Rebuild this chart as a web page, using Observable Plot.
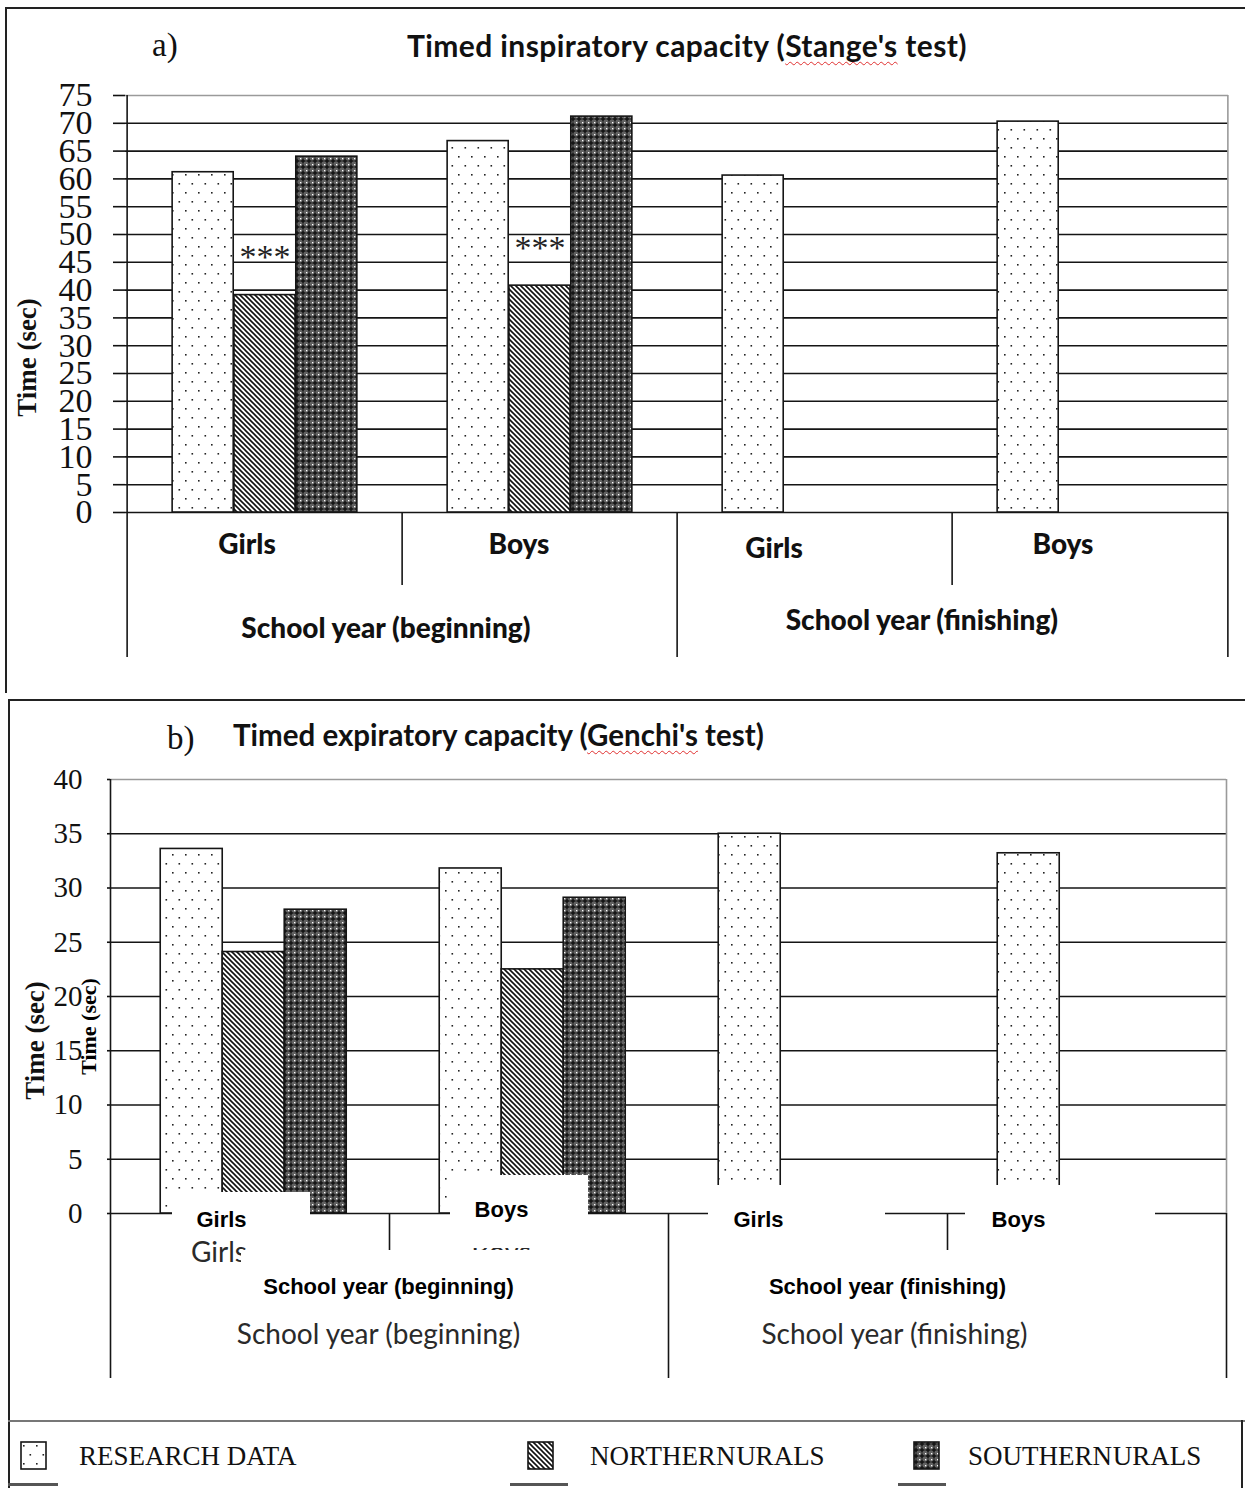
<!DOCTYPE html>
<html><head><meta charset="utf-8">
<script src="https://cdn.jsdelivr.net/npm/d3@7"></script>
<script src="https://cdn.jsdelivr.net/npm/@observablehq/plot@0.6"></script>
<style>
body{margin:0;background:#fff;}
#page{position:relative;width:1245px;height:1488px;overflow:hidden;background:#fff;}
.ln{position:absolute;background:#222;}
.ttl{position:absolute;white-space:nowrap;font-family:Lato,sans-serif;font-weight:bold;font-size:30px;letter-spacing:0.4px;line-height:34px;color:#111;}
.lab{position:absolute;white-space:nowrap;font-family:"Liberation Serif",serif;font-size:33px;line-height:40px;color:#111;}
.sq{text-decoration:underline wavy #e03030;text-decoration-thickness:1px;text-underline-offset:4px;text-decoration-skip-ink:none;}
.leg{position:absolute;white-space:nowrap;font-family:"Liberation Serif",serif;font-size:27px;line-height:34px;color:#111;}
.sw{position:absolute;}
.plot{position:absolute;left:0;}
</style></head>
<body>
<svg width="0" height="0" style="position:absolute">
<defs>
<pattern id="pat0" patternUnits="userSpaceOnUse" width="13" height="18">
 <rect width="13" height="18" fill="#fff"/>
 <rect x="3" y="4" width="1.6" height="1.6" fill="#222"/>
 <rect x="9.5" y="13" width="1.6" height="1.6" fill="#222"/>
</pattern>
<pattern id="pat1" patternUnits="userSpaceOnUse" width="5" height="5">
 <rect width="5" height="5" fill="#fff"/>
 <path d="M-1,-1 L6,6 M-1,4 L1,6 M4,-1 L6,1" stroke="#111" stroke-width="1.6"/>
</pattern>
<pattern id="pat2" patternUnits="userSpaceOnUse" width="6" height="6">
 <rect width="6" height="6" fill="#626262"/>
 <rect x="2.25" y="0.5" width="1.5" height="5" fill="#111"/>
 <rect x="0.5" y="2.25" width="5" height="1.5" fill="#111"/>
 <rect x="0" y="0" width="1.3" height="1.3" fill="#fff"/>
</pattern>
</defs></svg>
<div id="page"></div>
<script>
// ---------- data ----------
const groups = ["Girls (beginning)", "Boys (beginning)", "Girls (finishing)", "Boys (finishing)"];
const sexLabels = ["Girls", "Boys", "Girls", "Boys"];
const yearLabels = ["School year (beginning)", "School year (finishing)"];
const series = ["RESEARCH DATA", "NORTHERN URALS", "SOUTHERN URALS"];

const yLabel = "Time (sec)";

const inspResearch = [61.2, 66.8, 60.6, 70.3];
const inspNorthern = [39.1, 40.8, null, null];
const inspSouthern = [64.0, 71.2, null, null];
const inspNorthernMarks = ["***", "***", null, null];
const inspTicks = [0, 5, 10, 15, 20, 25, 30, 35, 40, 45, 50, 55, 60, 65, 70, 75];

const expResearch = [33.6, 31.8, 35.0, 33.2];
const expNorthern = [24.1, 22.5, null, null];
const expSouthern = [28.0, 29.1, null, null];
const expTicks = [0, 5, 10, 15, 20, 25, 30, 35, 40];

// ---------- helpers ----------
const page = document.getElementById("page");
function line(l, t, w, h, c) {
  const d = document.createElement("div"); d.className = "ln";
  Object.assign(d.style, {left: l + "px", top: t + "px", width: w + "px", height: h + "px"});
  if (c) d.style.background = c;
  page.appendChild(d);
}
function html(cls, l, t, inner) {
  const d = document.createElement("div"); d.className = cls;
  d.style.left = l + "px"; d.style.top = t + "px"; d.innerHTML = inner;
  page.appendChild(d); return d;
}

function rowsOf(valueArrays) {
  const rows = [];
  valueArrays.forEach((arr, k) => arr.forEach((v, i) => {
    if (v != null) rows.push({group: groups[i], series: series[k], value: v, i});
  }));
  return rows;
}

function panel(cfg) {
  const {width, height, ml, mr, mt, mb, yMax, ticks, values, po, al} = cfg;
  const bw = (width - ml - mr) / groups.length;
  const sub = d3.scaleBand().domain(series).range([0, bw]).paddingInner(0).paddingOuter(po).align(al);
  const rows = rowsOf(values);
  const S = "#151515", SW = 1.6;
  const marks = [];
  marks.push(Plot.gridY(ticks.filter(t => t > 0 && t < yMax), {stroke: S, strokeOpacity: 1, strokeWidth: SW}));
  marks.push(Plot.ruleY([yMax], {stroke: "#9a9a9a", strokeWidth: SW}));
  marks.push(Plot.ruleY([0], {stroke: S, strokeWidth: SW}));
  series.forEach((s, k) => marks.push(Plot.barY(rows.filter(d => d.series === s), {
    x: "group", y: "value", fill: `url(#pat${k})`, stroke: S, strokeWidth: SW,
    insetLeft: sub(s), insetRight: bw - sub(s) - sub.bandwidth()
  })));
  // separators of the two-level category axis
  const below = cfg.below, inner = cfg.inner;
  marks.push(Plot.ruleX([groups[0]], {dx: -bw / 2, insetBottom: -below, stroke: S, strokeWidth: SW}));
  marks.push(Plot.ruleX([groups[1], groups[3]], {dx: -bw / 2, y1: 0, y2: 0, insetBottom: -inner, stroke: S, strokeWidth: SW}));
  marks.push(Plot.ruleX([groups[2]], {dx: -bw / 2, y1: 0, y2: 0, insetBottom: -below, stroke: S, strokeWidth: SW}));
  marks.push(Plot.ruleX([groups[3]], {dx: bw / 2, stroke: "#9a9a9a", strokeWidth: SW}));
  marks.push(Plot.ruleX([groups[3]], {dx: bw / 2, y1: 0, y2: 0, insetBottom: -below, stroke: S, strokeWidth: SW}));
  marks.push(Plot.axisY(ticks, {tickSize: cfg.tickSize, tickPadding: cfg.tickPadding, fontSize: cfg.tickFont,
    fontFamily: "Liberation Serif", label: null, strokeWidth: SW, color: "#111"}));
  cfg.extra(marks, {bw, sub, rows});
  return Plot.plot({
    width, height, marginLeft: ml, marginRight: mr, marginTop: mt, marginBottom: mb,
    x: {domain: groups, padding: 0, axis: null},
    y: {domain: [0, yMax]},
    style: {background: "transparent", overflow: "visible", color: "#111", fontFamily: "Liberation Serif"},
    marks
  });
}
function label(group, text, dx, dy, opts) {
  return Plot.text([text], Object.assign({x: () => group, text: d => d, frameAnchor: "bottom", dx, dy}, opts));
}

// ---------- borders ----------
line(5, 7, 2, 686);        // panel a left
line(5, 7, 1240, 2);       // panel a top
line(8, 699, 1237, 2);     // panel b top
line(8, 699, 2, 789);      // panel b left
line(8, 1420, 1237, 2, "#777"); // legend top
line(1241, 1420, 2, 68);   // legend right
line(8, 1483, 50, 3, "#555");
line(510, 1483, 58, 3, "#555");
line(898, 1483, 48, 3, "#555");

// ---------- panel a ----------
html("lab", 152, 25, "a)");
html("ttl", 407, 28, "Timed inspiratory capacity (<span class='sq'>Stange's</span> test)");
const boldCal = {fontFamily: "Lato", fontWeight: 900, fontSize: 28, fill: "#111"};
const svgA = panel({
  width: 1245, height: 600, ml: 125, mr: 17, mt: 15, mb: 168, yMax: 75, ticks: inspTicks,
  values: [inspResearch, inspNorthern, inspSouthern], po: 0.73, al: 0.5,
  below: 145, inner: 73, tickSize: 12, tickPadding: 21, tickFont: 34,
  extra: (marks, {bw, sub, rows}) => {
    const north = rows.filter(d => d.series === series[1]);
    marks.push(Plot.text(north, {x: "group", y: "value", text: d => inspNorthernMarks[d.i],
      dx: sub(series[1]) + sub.bandwidth() / 2 - bw / 2, dy: -38, fontSize: 34, fontFamily: "Liberation Serif", fill: "#222"}));
    const dxs = [-18, -21, -41, -27], dys = [41, 41, 45, 41];
    groups.forEach((g, i) => marks.push(label(g, sexLabels[i], dxs[i], dys[i], boldCal)));
    marks.push(label(groups[0], yearLabels[0], bw / 2 - 17, 125, boldCal));
    marks.push(label(groups[2], yearLabels[1], bw / 2 - 31, 117, boldCal));
    marks.push(Plot.text([yLabel], {frameAnchor: "bottom-left", rotate: -90, dx: -90, dy: -155, text: d => d,
      textAnchor: "middle", fontFamily: "Liberation Serif", fontWeight: "bold", fontSize: 27, fill: "#111"}));
  }
});
svgA.classList.add("plot"); svgA.style.top = "80px";
page.appendChild(svgA);

// ---------- panel b ----------
html("lab", 167, 718, "b)");
const tb = html("ttl", 233, 718, "Timed expiratory capacity (<span class='sq'>Genchi's</span> test)");
tb.style.letterSpacing = "0px"; tb.style.fontSize = "29.5px";
const boldArial = {fontFamily: "Liberation Sans", fontWeight: "bold", fontSize: 22, fill: "#000"};
const lightCal = {fontFamily: "Lato", fontSize: 28, fill: "#2a2a2a"};
const boxes = [
  {g: 0, l: 62, r: 79, t: -21, b: -27},
  {g: 1, l: 61, r: 80, t: -38, b: -35},
  {g: 2, l: 40, r: 62, t: -28, b: -37},
  {g: 3, l: 18, r: 71, t: -28, b: -37},
  {g: 0, l: 131, r: -211, t: 37, b: -97},
  {g: 2, l: 72, r: -93, t: 37, b: -97}
];
const svgB = panel({
  width: 1245, height: 620, ml: 110, mr: 19, mt: 19, mb: 167, yMax: 40, ticks: expTicks,
  values: [expResearch, expNorthern, expSouthern], po: 0.75, al: 0.54,
  below: 165, inner: 39, tickSize: 3, tickPadding: 25, tickFont: 29,
  extra: (marks, {bw}) => {
    // older label layer
    marks.push(label(groups[0], sexLabels[0], -31, 48, lightCal));
    marks.push(label(groups[1], sexLabels[1], -28, 48, lightCal));
    marks.push(label(groups[0], yearLabels[0], bw / 2 - 11, 130, lightCal));
    marks.push(label(groups[2], yearLabels[1], bw / 2 - 53, 130, lightCal));
    // pasted white label boxes
    boxes.forEach(b => marks.push(Plot.barY([groups[b.g]], {x: d => d, y1: 0, y2: 0,
      insetLeft: b.l, insetRight: b.r, insetTop: b.t, insetBottom: b.b, fill: "#fff"})));
    const dxs = [-28.5, -27.5, -49.5, -68.5], dys = [13, 3, 13, 13];
    groups.forEach((g, i) => marks.push(label(g, sexLabels[i], dxs[i], dys[i], boldArial)));
    marks.push(label(groups[0], yearLabels[0], bw / 2 - 1, 80, boldArial));
    marks.push(label(groups[2], yearLabels[1], bw / 2 - 60, 80, boldArial));
    marks.push(Plot.text([yLabel], {frameAnchor: "bottom-left", rotate: -90, dx: -67, dy: -173, text: d => d,
      textAnchor: "middle", fontFamily: "Liberation Serif", fontWeight: "bold", fontSize: 27, fill: "#111"}));
    marks.push(Plot.text([yLabel], {frameAnchor: "bottom-left", rotate: -90, dx: -15, dy: -187, text: d => d,
      textAnchor: "middle", fontFamily: "Liberation Serif", fontWeight: "bold", fontSize: 22, fill: "#000"}));
  }
});
svgB.classList.add("plot"); svgB.style.top = "760px";
page.appendChild(svgB);

// ---------- legend ----------
const swX = [20, 527, 913], txX = [79, 590, 968], wsp = [0, -6, -6];
series.forEach((s, k) => {
  const sw = document.createElementNS("http://www.w3.org/2000/svg", "svg");
  sw.setAttribute("width", 30); sw.setAttribute("height", 30);
  sw.setAttribute("class", "sw");
  sw.style.left = swX[k] + "px"; sw.style.top = "1441px";
  sw.innerHTML = `<rect x="1" y="1" width="25" height="27" fill="url(#pat${k})" stroke="#151515" stroke-width="1.6"/>`;
  page.appendChild(sw);
  const d = html("leg", txX[k], 1439, s);
  d.style.wordSpacing = wsp[k] + "px";
});
</script>
</body></html>
